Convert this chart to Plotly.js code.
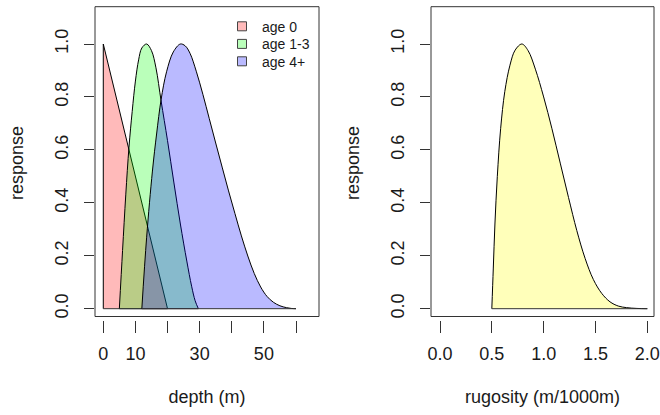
<!DOCTYPE html>
<html><head><meta charset="utf-8">
<script src="https://cdn.plot.ly/plotly-3.0.1.min.js"></script>
<style>html,body{margin:0;padding:0;background:#fff}#chart{width:660px;height:415px}</style>
</head><body><div id="chart"></div>
<script>
// ---- data ----
const groupNames = ['age 0', 'age 1-3', 'age 4+'];
const depthAge0 = [0, 0, 20];
const respAge0  = [0, 1, 0];
const depthAge13 = [5, 6, 7, 8, 9, 10, 11, 12, 13.5, 15, 16.4, 18, 20, 22, 24, 26, 27.5, 28.6, 29.6];
const respAge13  = [0, 0.22, 0.43, 0.61, 0.745, 0.86, 0.94, 0.985, 1.0, 0.975, 0.91, 0.785, 0.635, 0.475, 0.32, 0.18, 0.085, 0.03, 0];
const depthAge4 = [12, 13.5, 15.3, 16.6, 18, 19.7, 21.8, 24, 25.5, 27, 29, 31, 33, 35, 37, 39, 41, 43, 45, 47, 49, 51, 53, 55, 57, 58.5, 60];
const respAge4  = [0, 0.27, 0.52, 0.66, 0.79, 0.895, 0.97, 1.0, 0.993, 0.965, 0.895, 0.81, 0.718, 0.626, 0.535, 0.445, 0.359, 0.275, 0.199, 0.133, 0.082, 0.046, 0.024, 0.011, 0.004, 0.001, 0];
const rugosity = [0.5, 0.514, 0.53, 0.553, 0.585, 0.625, 0.675, 0.725, 0.79, 0.85, 0.92, 1.0, 1.08, 1.16, 1.24, 1.32, 1.4, 1.48, 1.56, 1.64, 1.72, 1.8, 1.9, 2.0];
const respRugosity = [0, 0.15, 0.32, 0.5, 0.68, 0.82, 0.92, 0.977, 1.0, 0.975, 0.905, 0.8, 0.68, 0.55, 0.42, 0.295, 0.19, 0.11, 0.058, 0.026, 0.01, 0.004, 0.001, 0];
const depthTicks = [0, 10, 20, 30, 40, 50, 60];
const depthTickText = ['0', '10', '', '30', '', '50', ''];
const rugTicks = [0, 0.5, 1, 1.5, 2];
const rugTickText = ['0.0', '0.5', '1.0', '1.5', '2.0'];
const respTicks = [0, 0.2, 0.4, 0.6, 0.8, 1];
const respTickText = ['0.0', '0.2', '0.4', '0.6', '0.8', '1.0'];

// ---- styling ----
const FONT = 'Liberation Sans, Arial, sans-serif';
const TXT = '#1a1a1a';
const fills = ['rgba(255,0,0,0.27)', 'rgba(0,255,0,0.27)', 'rgba(0,0,255,0.27)'];
const yellowFill = 'rgba(255,255,0,0.27)';

const traces = [];
function addCurve(xs, ys, fill, shape, xa, ya) {
  traces.push({x: xs, y: ys, type: 'scatter', mode: 'lines', fill: 'toself', fillcolor: fill,
    line: {color: '#000', width: 1, shape: shape, smoothing: 1}, xaxis: xa, yaxis: ya, showlegend: false, hoverinfo: 'skip'});
  // baseline of the polygon (from its first to its last point)
  traces.push({x: [xs[0], xs[xs.length - 1]], y: [ys[0], ys[ys.length - 1]], type: 'scatter', mode: 'lines',
    line: {color: '#333', width: 1}, xaxis: xa, yaxis: ya, showlegend: false, hoverinfo: 'skip'});
}
addCurve(depthAge0, respAge0, fills[0], 'linear', 'x', 'y');
addCurve(depthAge13, respAge13, fills[1], 'spline', 'x', 'y');
addCurve(depthAge4, respAge4, fills[2], 'spline', 'x', 'y');
addCurve(rugosity, respRugosity, yellowFill, 'spline', 'x2', 'y2');

const W = 660, H = 415;
const legendRows = [26.7, 44.3, 61.7];
const legends = {};
groupNames.forEach((n, i) => {
  const key = i === 0 ? 'legend' : 'legend' + (i + 1);
  traces.push({x: [null], y: [null], type: 'scatter', mode: 'markers', name: n, xaxis: 'x', yaxis: 'y', legend: key,
    marker: {symbol: 'square', size: 9, color: fills[i], line: {color: '#444', width: 1}}});
  legends[key] = {x: 222 / W, y: (H - legendRows[i]) / H, xanchor: 'left', yanchor: 'middle', bgcolor: 'rgba(0,0,0,0)',
    font: {family: FONT, size: 14, color: TXT}, itemwidth: 30, borderwidth: 0};
});

const plotTop = 6, plotBottom = 320;
const yDom = [(H - plotBottom) / H, (H - plotTop) / H];
const yRange = [-0.0427, 1.1436];
function yax(anchor) {
  return {domain: yDom, range: yRange, anchor: anchor, tickvals: respTicks, ticktext: respTickText,
    ticks: 'outside', ticklen: 10, tickcolor: '#333', tickwidth: 1, tickangle: -90, ticklabelstandoff: 9,
    showline: false, showgrid: false, zeroline: false, fixedrange: true,
    tickfont: {family: FONT, size: 18, color: TXT},
    title: {text: 'response', standoff: 23, font: {family: FONT, size: 18, color: TXT}}};
}
function xax(anchor, dom, rng, tv, tt, title) {
  return {domain: dom, range: rng, anchor: anchor, tickvals: tv, ticktext: tt,
    ticks: 'outside', ticklen: 12, tickcolor: '#333', tickwidth: 1, ticklabelstandoff: 5,
    showline: false, showgrid: false, zeroline: false, fixedrange: true,
    tickfont: {family: FONT, size: 18, color: TXT},
    title: {text: title, standoff: 27, font: {family: FONT, size: 18, color: TXT}}};
}
const layout = Object.assign({
  width: W, height: H, autosize: false, margin: {l: 0, r: 0, t: 0, b: 0},
  paper_bgcolor: '#fff', plot_bgcolor: '#fff',
  xaxis: xax('y', [95 / W, 319 / W], [-2.58, 67.16], depthTicks, depthTickText, 'depth (m)'),
  yaxis: yax('x'),
  xaxis2: xax('y2', [431 / W, 654 / W], [-0.0868, 2.0646], rugTicks, rugTickText, 'rugosity (m/1000m)'),
  yaxis2: yax('x2'),
  shapes: [
    {type: 'rect', xref: 'x domain', yref: 'y', x0: 0, x1: 1, y0: -0.0295, y1: 1.141, line: {color: '#333', width: 1}},
    {type: 'rect', xref: 'x2 domain', yref: 'y2', x0: 0, x1: 1, y0: -0.0295, y1: 1.141, line: {color: '#333', width: 1}}
  ],
  showlegend: true
}, legends);
Plotly.newPlot('chart', traces, layout, {staticPlot: true, displayModeBar: false});
</script></body></html>
